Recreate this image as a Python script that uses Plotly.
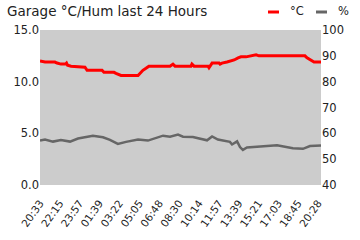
import plotly.graph_objects as go
from datetime import datetime, timedelta

# ---- data ----
temp_times = ["20:33", "20:59", "21:50", "22:01", "22:21", "22:45", "22:50", "22:55", "23:13",
              "00:25", "00:36", "01:53", "02:03", "02:55", "03:05", "03:31", "04:59",
              "05:09", "05:24", "05:40", "05:55", "07:44", "07:59", "08:10", "09:32",
              "09:37", "09:48", "11:00", "11:05", "11:21", "11:57", "12:02", "12:12",
              "12:38", "13:00", "13:15", "13:35", "13:50", "14:16", "14:47", "15:08",
              "15:23", "19:20", "19:31", "19:51", "20:07", "20:43"]
temp_values = [12.0, 11.9, 11.9, 11.8, 11.7, 11.7, 11.8, 11.6, 11.5,
               11.4, 11.1, 11.1, 10.9, 10.9, 10.8, 10.6, 10.6,
               10.8, 11.1, 11.3, 11.5, 11.5, 11.7, 11.5, 11.5,
               11.7, 11.5, 11.5, 11.35, 11.8, 11.8, 11.7, 11.8,
               11.9, 12.0, 12.1, 12.3, 12.4, 12.4, 12.5, 12.6,
               12.5, 12.5, 12.3, 12.1, 11.9, 11.9]

hum_times = ["20:33", "20:59", "21:40", "22:21", "23:08", "23:49", "01:06", "01:58", "02:34",
             "03:15", "03:57", "04:59", "05:50", "07:08", "07:44", "08:25", "08:51",
             "09:42", "10:55", "11:21", "11:51", "12:53", "13:04", "13:30", "13:45",
             "14:00", "14:21", "15:28", "16:56", "18:18", "19:10", "19:46", "20:43"]
hum_values = [57.2, 57.6, 56.8, 57.4, 56.8, 58.0, 59.1, 58.5, 57.5,
              55.9, 56.7, 57.6, 57.2, 59.1, 58.7, 59.5, 58.7,
              58.6, 57.3, 58.8, 57.6, 56.7, 55.7, 56.9, 54.7,
              53.6, 54.5, 54.9, 55.4, 54.2, 54.0, 55.1, 55.3]

tick_labels = ["20:33", "22:15", "23:57", "01:39", "03:22", "05:05", "06:48", "08:30",
               "10:14", "11:57", "13:39", "15:21", "17:03", "18:45", "20:28"]

title_text = "Garage °C/Hum last 24 Hours"
temp_name = "°C"
hum_name = "%"


def to_dates(times):
    out = []
    day = datetime(2024, 1, 1)
    prev = None
    for t in times:
        h, m = map(int, t.split(":"))
        d = day.replace(hour=h, minute=m)
        if prev is not None and d < prev:
            day = day + timedelta(days=1)
            d = day.replace(hour=h, minute=m)
        out.append(d)
        prev = d
    return out


tx = to_dates(temp_times)
hx = to_dates(hum_times)
tickx = to_dates(tick_labels)

RED = "#ff0000"
GREY = "#666666"
FONT = "DejaVu Sans"

fig = go.Figure()
fig.add_trace(go.Scatter(x=hx, y=hum_values, mode="lines", yaxis="y2",
                         line=dict(color=GREY, width=2.5), name=hum_name, showlegend=False))
fig.add_trace(go.Scatter(x=tx, y=temp_values, mode="lines",
                         line=dict(color=RED, width=3), name=temp_name, showlegend=False))

fig.update_layout(
    width=360, height=240,
    margin=dict(l=40, r=39, t=30, b=55),
    paper_bgcolor="white", plot_bgcolor="#cccccc",
    font=dict(family=FONT, size=11, color="#222222"),
    title=dict(text=title_text, x=7 / 360, xanchor="left", xref="container",
               y=1 - 11 / 240, yanchor="middle", yref="container",
               font=dict(size=13.5, color="#222222", family=FONT)),
    xaxis=dict(type="date", range=[tx[0], tx[-1]], tickvals=tickx, ticktext=tick_labels,
               tickangle=-55, showgrid=False, zeroline=False, showline=False, automargin=False,
               ticks="", ticklabelstandoff=9, tickfont=dict(size=10.5)),
    yaxis=dict(range=[0, 15], tickvals=[0, 5, 10, 15], tickformat=".1f", automargin=False,
               showgrid=False, zeroline=False, ticks="", tickfont=dict(size=11.5)),
    yaxis2=dict(range=[40, 100], dtick=10, overlaying="y", side="right", automargin=False,
                showgrid=False, zeroline=False, ticks="", tickfont=dict(size=11.5)),
    showlegend=False,
)

# custom compact legend (short line swatches)
def px_x(p):
    return (p - 40) / 281

def px_y(p):
    return (185 - p) / 155

legend_items = [(RED, temp_name, 268, 279, 288), (GREY, hum_name, 316, 327, 336)]
for color, label, x0, x1, tx0 in legend_items:
    fig.add_shape(type="line", xref="paper", yref="paper",
                  x0=px_x(x0), x1=px_x(x1), y0=px_y(12), y1=px_y(12),
                  line=dict(color=color, width=3))
    fig.add_annotation(xref="paper", yref="paper", x=px_x(tx0), y=px_y(11),
                       xanchor="left", yanchor="middle", text=label, showarrow=False,
                       font=dict(size=11.5, color="#222222", family=FONT))

fig.write_html("out.html")
